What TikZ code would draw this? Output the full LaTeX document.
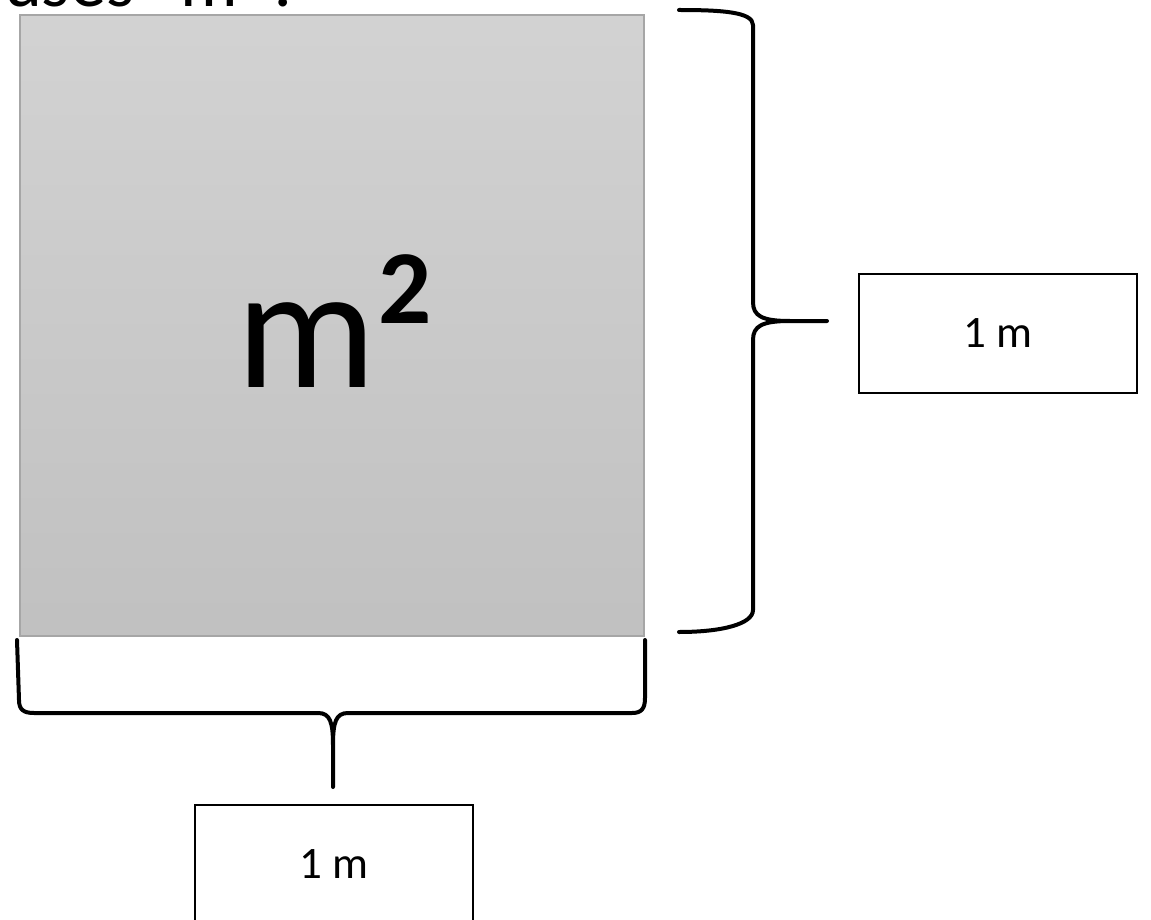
\documentclass[tikz,border=0pt]{standalone}
\usepackage{fontspec}
\setmainfont{Carlito}
\begin{document}
\begin{tikzpicture}[x=1pt, y=-1pt,
	brace/.style={line width=4pt, line join=round, line cap=round},
	unitbox/.style={draw, line width=2pt, minimum width=278pt, minimum height=119pt, font=\fontsize{45}{54}\selectfont}]
	\useasboundingbox (0,0) rectangle (1151,920);
	\clip (0,0) rectangle (1151,920);

	%% Frage (oben abgeschnitten)
	\node[anchor=base west, inner sep=0pt, font=\fontsize{72}{86}\selectfont] (question) at (4,7) {uses “m”?};

	%% Flaeche
	\node[draw=gray!70, line width=1.5pt, top color=gray!35, bottom color=gray!49, minimum width=624pt, minimum height=621pt, inner sep=0pt] (square) at (332,325.5) {};
	\node[anchor=base west, inner sep=0pt, font=\fontsize{175}{200}\selectfont] (area) at (236,387) {m\kern3pt\raisebox{64pt}{\fontsize{105}{120}\selectfont\bfseries 2}};
	%%%%%%%%%%%%%%%%

	%% Klammer rechts
	\draw[brace] (679,10) .. controls (722,10) and (753,12) .. (753,25) -- (753,302) .. controls (753,316) and (762,321) .. (790,321) -- (827,321) -- (790,321) .. controls (762,321) and (753,326) .. (753,340) -- (753,610) .. controls (753,624) and (722,632) .. (679,632);
	\node[unitbox] (height) at (998,333.5) {1 m};

	%% Klammer unten
	\draw[brace] (17,640) -- (19,700) .. controls (19,710) and (24,713) .. (34,713) -- (318,713) .. controls (330,713) and (333,722) .. (333,745) -- (333,787) -- (333,745) .. controls (333,722) and (336,713) .. (348,713) -- (632,713) .. controls (642,713) and (645,708) .. (645,698) -- (645,640);
	\node[unitbox] (width) at (333.5,864.5) {1 m};
\end{tikzpicture}
\end{document}
